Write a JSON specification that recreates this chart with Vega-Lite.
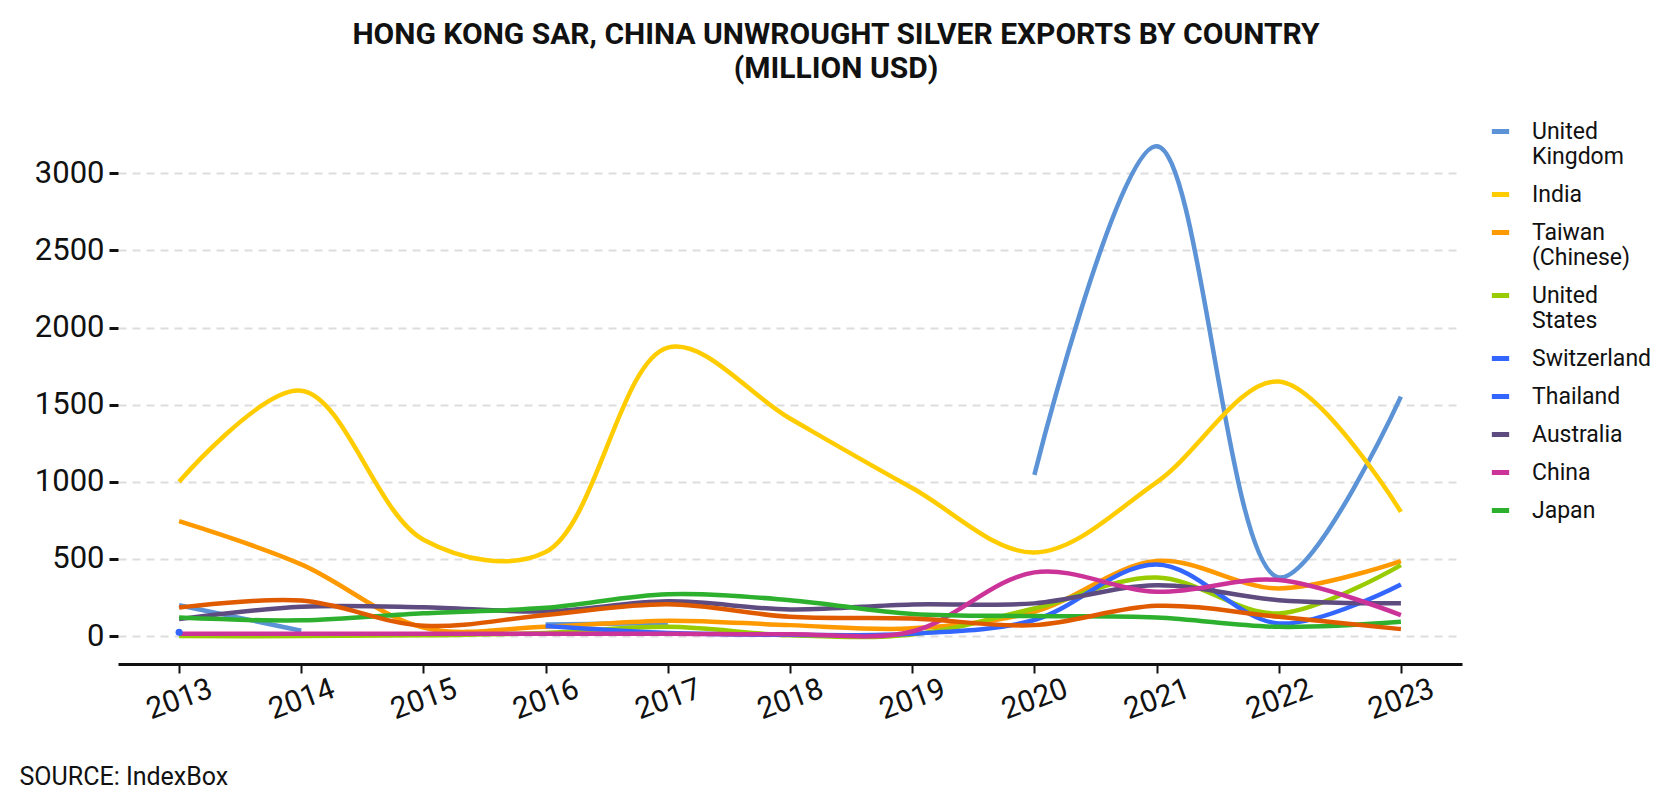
{
  "$schema": "https://vega.github.io/schema/vega-lite/v6.json",
  "width": 1344,
  "height": 537,
  "autosize": {"type": "none"},
  "padding": {"left": 118, "top": 127, "right": 218, "bottom": 136},
  "background": "white",
  "config": {"view": {"stroke": null}, "font": "Roboto"},
  "title": {
    "text": ["HONG KONG SAR, CHINA UNWROUGHT SILVER EXPORTS BY COUNTRY", "(MILLION USD)"],
    "font": "Roboto",
    "fontSize": 30,
    "fontWeight": "bold",
    "color": "#111111",
    "anchor": "middle",
    "lineHeight": 34,
    "offset": 36,
    "dx": 46
  },
  "datasets": {
    "main": [
      {"country": "United Kingdom", "year": 2013, "value": 200},
      {"country": "United Kingdom", "year": 2014, "value": 35},
      {"country": "United Kingdom", "year": 2015, "value": null},
      {"country": "United Kingdom", "year": 2016, "value": 75},
      {"country": "United Kingdom", "year": 2017, "value": 85},
      {"country": "United Kingdom", "year": 2018, "value": null},
      {"country": "United Kingdom", "year": 2019, "value": null},
      {"country": "United Kingdom", "year": 2020, "value": 1045},
      {"country": "United Kingdom", "year": 2021, "value": 3175},
      {"country": "United Kingdom", "year": 2022, "value": 380},
      {"country": "United Kingdom", "year": 2023, "value": 1552},
      {"country": "India", "year": 2013, "value": 1000},
      {"country": "India", "year": 2014, "value": 1590},
      {"country": "India", "year": 2015, "value": 625},
      {"country": "India", "year": 2016, "value": 545},
      {"country": "India", "year": 2017, "value": 1870},
      {"country": "India", "year": 2018, "value": 1410},
      {"country": "India", "year": 2019, "value": 960},
      {"country": "India", "year": 2020, "value": 542},
      {"country": "India", "year": 2021, "value": 997},
      {"country": "India", "year": 2022, "value": 1650},
      {"country": "India", "year": 2023, "value": 805},
      {"country": "Taiwan (Chinese)", "year": 2013, "value": 745},
      {"country": "Taiwan (Chinese)", "year": 2014, "value": 465},
      {"country": "Taiwan (Chinese)", "year": 2015, "value": 55},
      {"country": "Taiwan (Chinese)", "year": 2016, "value": 60},
      {"country": "Taiwan (Chinese)", "year": 2017, "value": 100},
      {"country": "Taiwan (Chinese)", "year": 2018, "value": 71},
      {"country": "Taiwan (Chinese)", "year": 2019, "value": 50},
      {"country": "Taiwan (Chinese)", "year": 2020, "value": 158},
      {"country": "Taiwan (Chinese)", "year": 2021, "value": 486},
      {"country": "Taiwan (Chinese)", "year": 2022, "value": 309},
      {"country": "Taiwan (Chinese)", "year": 2023, "value": 486},
      {"country": "United States", "year": 2013, "value": 0},
      {"country": "United States", "year": 2014, "value": 0},
      {"country": "United States", "year": 2015, "value": 5},
      {"country": "United States", "year": 2016, "value": 20},
      {"country": "United States", "year": 2017, "value": 60},
      {"country": "United States", "year": 2018, "value": 5},
      {"country": "United States", "year": 2019, "value": 10},
      {"country": "United States", "year": 2020, "value": 179},
      {"country": "United States", "year": 2021, "value": 380},
      {"country": "United States", "year": 2022, "value": 147},
      {"country": "United States", "year": 2023, "value": 460},
      {"country": "Switzerland", "year": 2016, "value": 65},
      {"country": "Switzerland", "year": 2017, "value": 20},
      {"country": "Switzerland", "year": 2018, "value": 8},
      {"country": "Switzerland", "year": 2019, "value": 15},
      {"country": "Switzerland", "year": 2020, "value": 104},
      {"country": "Switzerland", "year": 2021, "value": 464},
      {"country": "Switzerland", "year": 2022, "value": 82},
      {"country": "Switzerland", "year": 2023, "value": 335},
      {"country": "Thailand", "year": 2013, "value": 25},
      {"country": "Australia", "year": 2013, "value": 110},
      {"country": "Australia", "year": 2014, "value": 190},
      {"country": "Australia", "year": 2015, "value": 187},
      {"country": "Australia", "year": 2016, "value": 160},
      {"country": "Australia", "year": 2017, "value": 225},
      {"country": "Australia", "year": 2018, "value": 173},
      {"country": "Australia", "year": 2019, "value": 205},
      {"country": "Australia", "year": 2020, "value": 212},
      {"country": "Australia", "year": 2021, "value": 330},
      {"country": "Australia", "year": 2022, "value": 233},
      {"country": "Australia", "year": 2023, "value": 212},
      {"country": "China", "year": 2013, "value": 15},
      {"country": "China", "year": 2014, "value": 15},
      {"country": "China", "year": 2015, "value": 15},
      {"country": "China", "year": 2016, "value": 15},
      {"country": "China", "year": 2017, "value": 15},
      {"country": "China", "year": 2018, "value": 12},
      {"country": "China", "year": 2019, "value": 30},
      {"country": "China", "year": 2020, "value": 413},
      {"country": "China", "year": 2021, "value": 287},
      {"country": "China", "year": 2022, "value": 363},
      {"country": "China", "year": 2023, "value": 136},
      {"country": "Japan", "year": 2013, "value": 120},
      {"country": "Japan", "year": 2014, "value": 102},
      {"country": "Japan", "year": 2015, "value": 148},
      {"country": "Japan", "year": 2016, "value": 183},
      {"country": "Japan", "year": 2017, "value": 271},
      {"country": "Japan", "year": 2018, "value": 233},
      {"country": "Japan", "year": 2019, "value": 143},
      {"country": "Japan", "year": 2020, "value": 130},
      {"country": "Japan", "year": 2021, "value": 121},
      {"country": "Japan", "year": 2022, "value": 60},
      {"country": "Japan", "year": 2023, "value": 93}
    ],
    "other": [
      {"country": "Other", "year": 2013, "value": 185},
      {"country": "Other", "year": 2014, "value": 230},
      {"country": "Other", "year": 2015, "value": 67},
      {"country": "Other", "year": 2016, "value": 137},
      {"country": "Other", "year": 2017, "value": 206},
      {"country": "Other", "year": 2018, "value": 125},
      {"country": "Other", "year": 2019, "value": 114},
      {"country": "Other", "year": 2020, "value": 71},
      {"country": "Other", "year": 2021, "value": 196},
      {"country": "Other", "year": 2022, "value": 125},
      {"country": "Other", "year": 2023, "value": 45}
    ]
  },
  "encoding": {
    "x": {
      "field": "year",
      "type": "quantitative",
      "scale": {"domain": [2012.5, 2023.5], "nice": false, "zero": false},
      "axis": {
        "values": [2013, 2014, 2015, 2016, 2017, 2018, 2019, 2020, 2021, 2022, 2023],
        "format": "d",
        "grid": false,
        "labelAngle": -20,
        "labelAlign": "center",
        "labelBaseline": "middle",
        "labelFontSize": 30,
        "labelColor": "#111111",
        "labelPadding": 26,
        "labelFont": "Roboto",
        "domainColor": "#111111",
        "domainWidth": 3,
        "tickColor": "#111111",
        "tickWidth": 2,
        "tickSize": 9,
        "title": "SOURCE: IndexBox",
        "titleFont": "Roboto",
        "titleFontSize": 25,
        "titleFontWeight": "normal",
        "titleColor": "#111111",
        "titleAnchor": "start",
        "titleAlign": "left",
        "titleBaseline": "middle",
        "titleX": -99,
        "titleY": 112
      }
    },
    "y": {
      "field": "value",
      "type": "quantitative",
      "scale": {"domain": [-181, 3300], "nice": false, "zero": false},
      "axis": {
        "values": [0, 500, 1000, 1500, 2000, 2500, 3000],
        "format": "d",
        "domain": false,
        "grid": true,
        "gridColor": "#dddddd",
        "gridDash": [8, 6],
        "gridWidth": 2,
        "tickColor": "#111111",
        "tickWidth": 3,
        "tickSize": 9,
        "labelFontSize": 31,
        "labelColor": "#111111",
        "labelPadding": 5,
        "labelFont": "Roboto",
        "title": null
      }
    }
  },
  "layer": [
    {
      "data": {"name": "main"},
      "mark": {"type": "line", "interpolate": "catmull-rom", "strokeWidth": 4.5, "strokeCap": "butt"},
      "encoding": {
        "color": {
          "field": "country",
          "type": "nominal",
          "scale": {
            "domain": ["United Kingdom", "India", "Taiwan (Chinese)", "United States", "Switzerland", "Thailand", "Australia", "China", "Japan"],
            "range": ["#5B93D6", "#FFCC00", "#FF9900", "#99CC00", "#3366FF", "#3366FF", "#5E4B7F", "#CC3399", "#2DB02D"]
          },
          "legend": {
            "orient": "none",
            "legendX": 1371,
            "legendY": -7,
            "title": null,
            "labelFontSize": 23,
            "labelFont": "Roboto",
            "labelColor": "#111111",
            "labelLimit": 300,
            "labelOffset": 20,
            "symbolType": "stroke",
            "symbolStrokeWidth": 5,
            "symbolSize": 300,
            "rowPadding": 14,
            "labelExpr": "datum.label == 'United Kingdom' ? ['United', 'Kingdom'] : datum.label == 'Taiwan (Chinese)' ? ['Taiwan', '(Chinese)'] : datum.label == 'United States' ? ['United', 'States'] : datum.label"
          }
        }
      }
    },
    {
      "data": {"name": "other"},
      "mark": {"type": "line", "interpolate": "catmull-rom", "strokeWidth": 4.5, "color": "#E05A00"},
      "encoding": {}
    },
    {
      "data": {"name": "main"},
      "transform": [{"filter": "datum.country == 'Thailand'"}],
      "mark": {"type": "point", "filled": true, "color": "#3366FF", "size": 50, "opacity": 1},
      "encoding": {}
    }
  ]
}
